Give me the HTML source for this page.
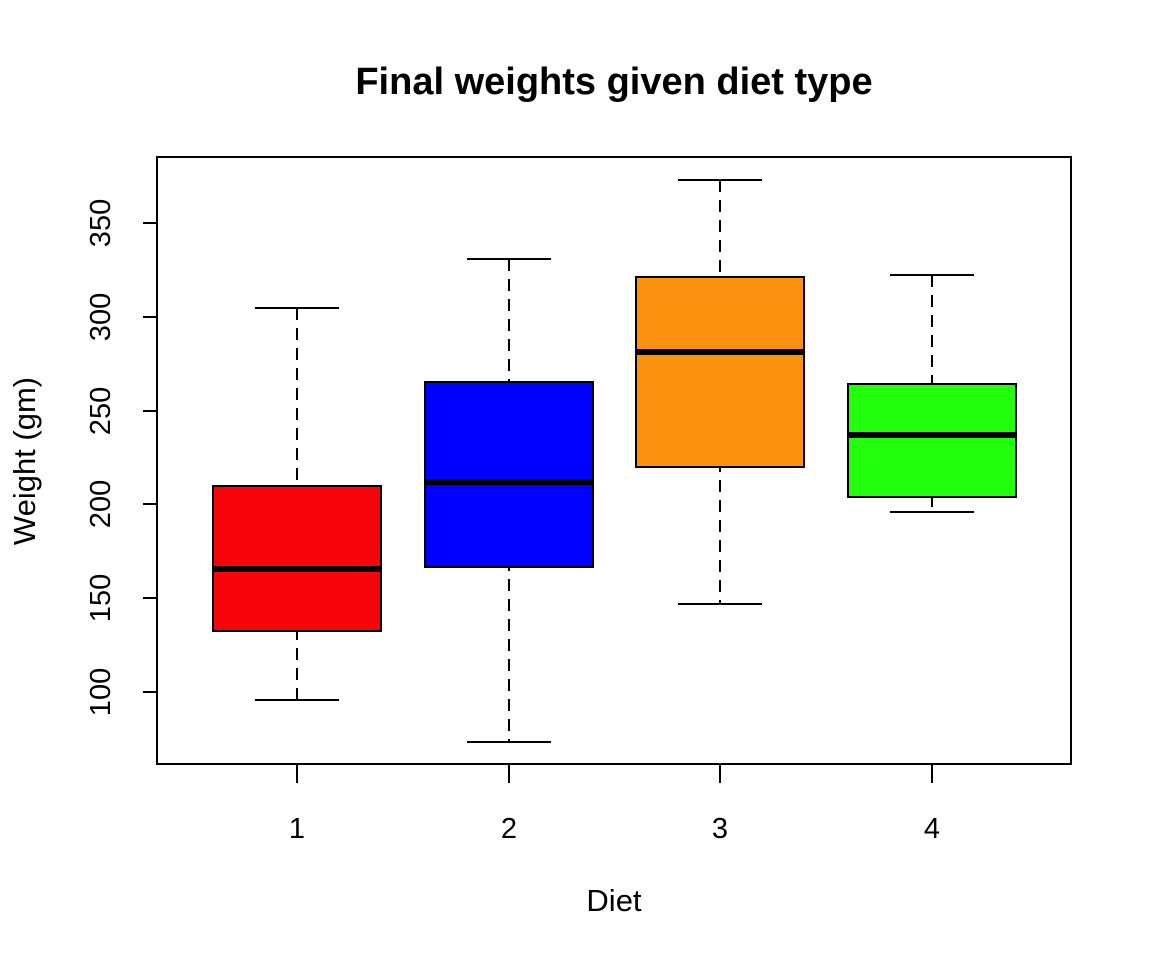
<!DOCTYPE html>
<html><head><style>body{margin:0;background:#fff}</style></head><body>
<svg width="1152" height="960" xmlns="http://www.w3.org/2000/svg" font-family="Liberation Sans, Arial, sans-serif">
<rect width="1152" height="960" fill="#fff"/>
<text x="614" y="94" text-anchor="middle" font-size="38" font-weight="bold">Final weights given diet type</text>
<rect x="157" y="157" width="914" height="607" fill="none" stroke="#000" stroke-width="2"/>
<g stroke="#000" stroke-width="2">
<line x1="157" y1="692" x2="157" y2="223"/>
<line x1="143" y1="692" x2="157" y2="692"/><line x1="143" y1="598" x2="157" y2="598"/><line x1="143" y1="504" x2="157" y2="504"/><line x1="143" y1="411" x2="157" y2="411"/><line x1="143" y1="317" x2="157" y2="317"/><line x1="143" y1="223" x2="157" y2="223"/>
<line x1="297" y1="764" x2="297" y2="783"/><line x1="509" y1="764" x2="509" y2="783"/><line x1="720" y1="764" x2="720" y2="783"/><line x1="932" y1="764" x2="932" y2="783"/>
</g>
<g font-size="29" text-anchor="middle">
<text transform="translate(110,692) rotate(-90)">100</text>
<text transform="translate(110,598) rotate(-90)">150</text>
<text transform="translate(110,504) rotate(-90)">200</text>
<text transform="translate(110,411) rotate(-90)">250</text>
<text transform="translate(110,317) rotate(-90)">300</text>
<text transform="translate(110,223) rotate(-90)">350</text>
<text x="297" y="838">1</text><text x="509" y="838">2</text><text x="720" y="838">3</text><text x="932" y="838">4</text>
</g>
<g font-size="31" text-anchor="middle">
<text x="614" y="911">Diet</text>
<text transform="translate(35,461) rotate(-90)">Weight (gm)</text>
</g>
<g stroke="#000" stroke-width="2">
<line x1="297" y1="308" x2="297" y2="700" stroke-dasharray="12,8"/>
<line x1="255" y1="308" x2="339" y2="308"/><line x1="255" y1="700" x2="339" y2="700"/>
<rect x="213" y="486" width="168" height="145" fill="#f8040a"/>
<line x1="213" y1="569" x2="381" y2="569" stroke-width="6"/>
<line x1="509" y1="259" x2="509" y2="742" stroke-dasharray="12,8"/>
<line x1="467" y1="259" x2="551" y2="259"/><line x1="467" y1="742" x2="551" y2="742"/>
<rect x="425" y="382" width="168" height="185" fill="#0000ff"/>
<line x1="425" y1="482" x2="593" y2="482" stroke-width="6"/>
<line x1="720" y1="180" x2="720" y2="604" stroke-dasharray="12,8"/>
<line x1="678" y1="180" x2="762" y2="180"/><line x1="678" y1="604" x2="762" y2="604"/>
<rect x="636" y="277" width="168" height="190" fill="#fa9210"/>
<line x1="636" y1="352" x2="804" y2="352" stroke-width="6"/>
<line x1="932" y1="275" x2="932" y2="512" stroke-dasharray="12,8"/>
<line x1="890" y1="275" x2="974" y2="275"/><line x1="890" y1="512" x2="974" y2="512"/>
<rect x="848" y="384" width="168" height="113" fill="#22ff0c"/>
<line x1="848" y1="435" x2="1016" y2="435" stroke-width="6"/>
</g>
</svg>
</body></html>
